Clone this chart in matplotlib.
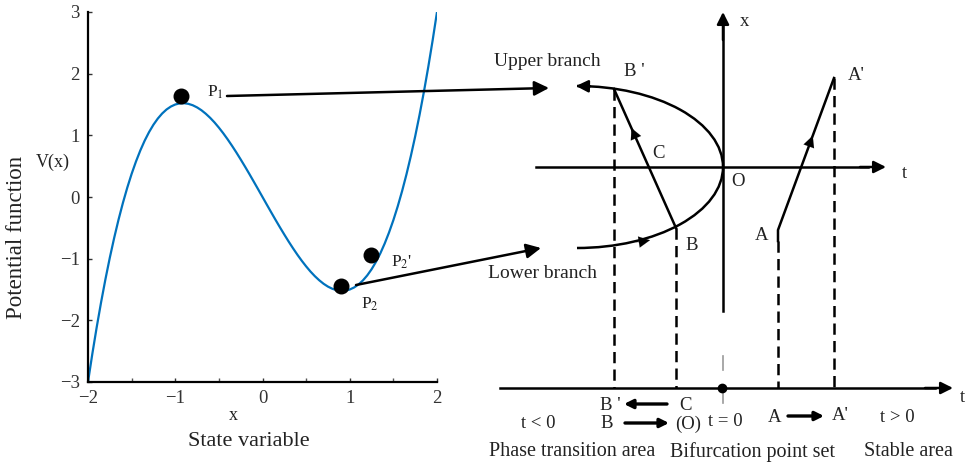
import matplotlib
matplotlib.use("Agg")
import matplotlib.pyplot as plt
from matplotlib.patches import Arc, FancyArrowPatch

plt.rcParams['font.family'] = ['Liberation Serif', 'DejaVu Serif']
plt.rcParams['mathtext.fontset'] = 'stix'

# ---- left panel data ----
x_vals = [-2.00, -1.95, -1.90, -1.85, -1.80, -1.75, -1.70, -1.65, -1.60, -1.55,
          -1.50, -1.45, -1.40, -1.35, -1.30, -1.25, -1.20, -1.15, -1.10, -1.05,
          -1.00, -0.95, -0.90, -0.85, -0.80, -0.75, -0.70, -0.65, -0.60, -0.55,
          -0.50, -0.45, -0.40, -0.35, -0.30, -0.25, -0.20, -0.15, -0.10, -0.05,
          0.00, 0.05, 0.10, 0.15, 0.20, 0.25, 0.30, 0.35, 0.40, 0.45,
          0.50, 0.55, 0.60, 0.65, 0.70, 0.75, 0.80, 0.85, 0.90, 0.95,
          1.00, 1.05, 1.10, 1.15, 1.20, 1.25, 1.30, 1.35, 1.40, 1.45,
          1.50, 1.55, 1.60, 1.65, 1.70, 1.75, 1.80, 1.85, 1.90, 1.95, 2.00]
v_vals = [-3.000, -2.540, -2.109, -1.707, -1.332, -0.984, -0.663, -0.367, -0.096, 0.151,
          0.375, 0.576, 0.756, 0.915, 1.053, 1.172, 1.272, 1.354, 1.419, 1.467,
          1.500, 1.518, 1.521, 1.511, 1.488, 1.453, 1.407, 1.350, 1.284, 1.209,
          1.125, 1.034, 0.936, 0.832, 0.723, 0.609, 0.492, 0.372, 0.249, 0.125,
          0.000, -0.125, -0.249, -0.372, -0.492, -0.609, -0.723, -0.832, -0.936, -1.034,
          -1.125, -1.209, -1.284, -1.350, -1.407, -1.453, -1.488, -1.511, -1.521, -1.518,
          -1.500, -1.467, -1.419, -1.354, -1.272, -1.172, -1.053, -0.915, -0.756, -0.576,
          -0.375, -0.151, 0.096, 0.367, 0.663, 0.984, 1.332, 1.707, 2.109, 2.540, 3.000]
dot_x = [-0.93, 0.90, 1.24]
dot_y = [1.63, -1.44, -0.94]
x_ticks = [-2, -1, 0, 1, 2]
x_minor = [-1.5, -0.5, 0.5, 1.5]
y_ticks = [-3, -2, -1, 0, 1, 2, 3]

W, H = 969, 467
fig = plt.figure(figsize=(W / 100, H / 100), dpi=100)

ax = fig.add_axes([88 / W, 1 - 382 / H, (437 - 88) / W, (382 - 12) / H])
ax.plot(x_vals, v_vals, color='#0072BD', lw=1.6, zorder=2)
ax.scatter(dot_x, dot_y, s=110, color='black', zorder=3)
ax.set_xlim(-2, 2)
ax.set_ylim(-3, 3)
ax.set_xticks(x_ticks)
ax.set_yticks(y_ticks)
ax.set_xticks(x_minor, minor=True)
ax.set_xticklabels([str(v).replace('-', '\u2212') for v in x_ticks], fontsize=13.5)
ax.set_yticklabels([str(v).replace('-', '\u2212') for v in y_ticks], fontsize=13.5)
ax.tick_params(direction='in', length=3, width=1, pad=6, colors='#333333', labelcolor='#333333')
ax.tick_params(which='minor', direction='in', length=3, width=1, colors='#555555')
for s in ['top', 'right']:
    ax.spines[s].set_visible(False)
for s in ['left', 'bottom']:
    ax.spines[s].set_linewidth(1.6)
ax.patch.set_alpha(0)

# ---- overlay in pixel coordinates ----
ov = fig.add_axes([0, 0, 1, 1], zorder=5)
ov.set_xlim(0, W)
ov.set_ylim(H, 0)
ov.axis('off')
ov.patch.set_alpha(0)

K = 'black'
fs = 13.5

def txt(x, y, s, size=fs, **kw):
    ov.text(x, y, s, fontsize=size, ha='center', va='center', color='#222222', **kw)

def arrow(p0, p1, lw=1.8, ms=22):
    ov.add_patch(FancyArrowPatch(p0, p1, arrowstyle='-|>', mutation_scale=ms,
                                 lw=lw, color=K, shrinkA=0, shrinkB=0))

def midhead(p0, p1, frac=0.5, ms=20):
    mx = p0[0] + (p1[0] - p0[0]) * frac
    my = p0[1] + (p1[1] - p0[1]) * frac
    dx = (p1[0] - p0[0]) * 0.06
    dy = (p1[1] - p0[1]) * 0.06
    ov.add_patch(FancyArrowPatch((mx - dx, my - dy), (mx, my), arrowstyle='-|>',
                                 mutation_scale=ms, lw=0.1, color=K, shrinkA=0, shrinkB=0))

# left panel labels
txt(17, 237, 'Potential function', size=16.5, rotation=90)
txt(53, 162, 'V(x)', size=13)
txt(233, 415, 'x', size=13)
txt(249, 441, 'State variable', size=16)
txt(215, 92, 'P$_1$', size=12.5)
txt(370, 304, 'P$_2$', size=12.5)
txt(402, 262, "P$_2$'", size=12.5)

# connecting arrows
arrow((227, 96), (549, 88))
arrow((356, 285), (541, 248))

# right diagram: axes
ov.plot([723, 723], [311, 22], color=K, lw=1.8)
arrow((723, 40), (723, 12), ms=18)
ov.plot([536, 868], [167, 167], color=K, lw=1.8)
arrow((860, 167), (886, 167), ms=18)
txt(745, 22, 'x')
txt(904, 173, 't')
txt(738, 182, 'O')

# branches (half ellipse)
ov.add_patch(Arc((577, 167), 292, 162, theta1=-90, theta2=90, lw=1.8, color=K))
arrow((590, 86.3), (576, 86), ms=18)
ov.add_patch(FancyArrowPatch((636, 242.5), (650, 240.2), arrowstyle='-|>', mutation_scale=20,
                             lw=0.1, color=K, shrinkA=0, shrinkB=0))
txt(547, 62, 'Upper branch', size=14)
txt(543, 273, 'Lower branch', size=14)

# B -> B', A -> A'
ov.plot([676, 614], [228, 89], color=K, lw=1.8)
midhead((676, 228), (614, 89), frac=0.72)
ov.plot([778, 778, 834], [241, 230, 78], color=K, lw=1.8)
midhead((778, 230), (834, 78), frac=0.62)
txt(634, 72, "B '")
txt(856, 76, "A'")
txt(659, 154, 'C')
txt(692, 245, 'B')
txt(762, 235, 'A')

# dashed drops
for xd, ytop in [(614, 89), (676, 228), (778, 241), (834, 78)]:
    ov.plot([xd, xd], [ytop, 388], color=K, lw=1.8, dashes=(4.5, 2.5))
ov.plot([723, 723], [356, 370], color='#999999', lw=1.2)
ov.plot([723, 723], [388, 403], color='#999999', lw=1.2)

# bottom axis
ov.plot([500, 935], [388, 388], color=K, lw=1.8)
arrow((925, 388), (953, 388), ms=18)
ov.plot([722], [388], 'o', color=K, ms=6)
txt(962, 398, 't')

txt(610, 405, "B '")
arrow((667, 404), (624, 404), lw=2.4, ms=13)
txt(686, 406, 'C')
txt(538, 423, 't < 0')
txt(607, 424, 'B')
arrow((625, 423), (669, 423), lw=2.4, ms=13)
txt(688, 424, '(O)')
txt(725, 422, 't = 0')
txt(775, 417, 'A')
arrow((788, 416), (824, 416), lw=2.4, ms=13)
txt(840, 416, "A'")
txt(897, 418, 't > 0')
txt(572, 452, 'Phase transition area', size=14.5)
txt(753, 452, 'Bifurcation point set', size=14.5)
txt(908, 452, 'Stable area', size=14.5)

fig.savefig('out.png', dpi=100)
